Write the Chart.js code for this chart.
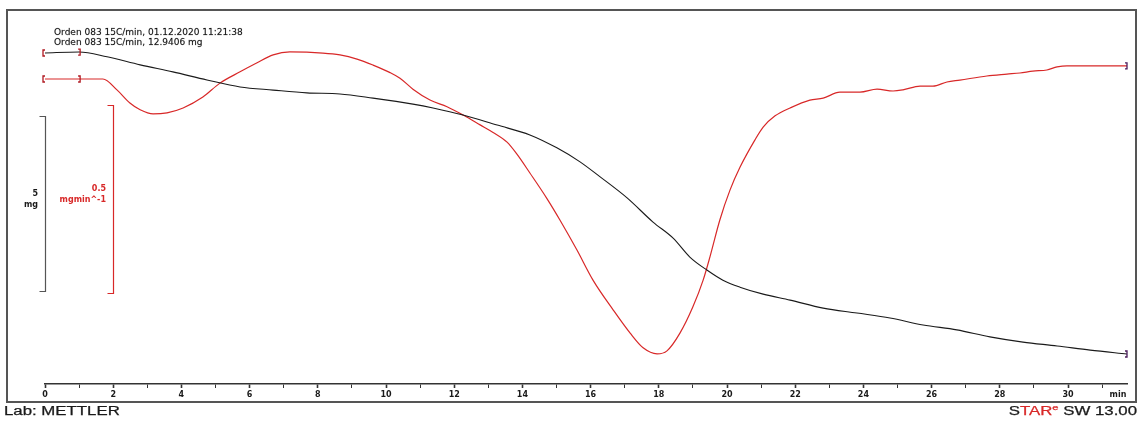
<!DOCTYPE html>
<html>
<head>
<meta charset="utf-8">
<script src="https://cdn.jsdelivr.net/npm/chart.js@4.4.1/dist/chart.umd.min.js"></script>
<style>
  html, body { margin: 0; padding: 0; background: #fff; }
  #wrap { width: 1140px; height: 423px; }
</style>
</head>
<body>
<div id="wrap"><canvas id="tgaChart" width="1140" height="423"></canvas></div>
<script>
// TGA curve (mass, mg)
const massTime = [0, 1.00, 1.82, 2.79, 3.75, 4.75, 5.72, 6.69, 7.68, 8.65, 9.62, 10.79, 11.38,
  12.26, 13.26, 14.22, 15.01, 15.69, 16.28, 17.07, 17.83, 18.42, 18.91, 19.41, 19.88, 20.38,
  21.06, 21.85, 22.82, 23.81, 24.78, 25.75, 26.74, 27.71, 28.68, 29.68, 30.65, 31.73];
const massValues = [12.94, 12.97, 12.83, 12.60, 12.40, 12.17, 11.97, 11.88, 11.80, 11.77, 11.65,
  11.48, 11.37, 11.17, 10.88, 10.60, 10.23, 9.83, 9.40, 8.80, 8.11, 7.65, 7.11, 6.74, 6.45, 6.25,
  6.05, 5.88, 5.65, 5.51, 5.37, 5.17, 5.03, 4.83, 4.68, 4.57, 4.45, 4.34];

// DTG curve (mg/min, relative to start level)
const rateTime = [0, 1.70, 2.11, 2.49, 2.79, 3.17, 3.58, 4.05, 4.63, 5.13, 5.72, 6.22, 6.69, 7.18,
  8.15, 8.65, 9.15, 9.62, 10.12, 10.41, 10.79, 11.29, 11.79, 12.26, 12.76, 13.14, 13.55, 13.84,
  14.22, 14.72, 15.10, 15.60, 16.07, 16.66, 17.16, 17.54, 17.95, 18.24, 18.62, 19.00, 19.30,
  19.50, 19.79, 20.09, 20.38, 20.82, 21.06, 21.41, 21.85, 22.43, 22.82, 23.31, 23.90, 24.40,
  24.87, 25.16, 25.66, 26.04, 26.45, 26.83, 27.62, 28.21, 28.59, 28.97, 29.38, 29.68, 29.97, 31.73];
const rateValues = [0, 0, -0.029, -0.064, -0.082, -0.093, -0.090, -0.077, -0.048, -0.011, 0.019,
  0.043, 0.064, 0.072, 0.069, 0.064, 0.053, 0.037, 0.017, 0.002, -0.027, -0.056, -0.074, -0.096,
  -0.122, -0.142, -0.168, -0.200, -0.250, -0.318, -0.375, -0.455, -0.535, -0.614, -0.676, -0.715,
  -0.731, -0.723, -0.676, -0.606, -0.535, -0.473, -0.375, -0.295, -0.235, -0.162, -0.128, -0.098,
  -0.077, -0.056, -0.051, -0.035, -0.035, -0.027, -0.032, -0.029, -0.019, -0.019, -0.008, -0.003,
  0.008, 0.013, 0.016, 0.021, 0.024, 0.032, 0.035, 0.035];

const titleLines = ['Orden 083 15C/min, 01.12.2020 11:21:38', 'Orden 083 15C/min, 12.9406 mg'];
const startMarks = [0, 1.03];

const RED = 'rgb(216,40,40)';
const DARK = '#1a1a1a';

function toPoints(xs, ys) {
  return xs.map((x, i) => ({ x: x, y: ys[i] }));
}

function valueAt(xs, ys, t) {
  for (let i = 1; i < xs.length; i++) {
    if (t <= xs[i]) {
      const f = (t - xs[i - 1]) / (xs[i] - xs[i - 1]);
      return ys[i - 1] + f * (ys[i] - ys[i - 1]);
    }
  }
  return ys[ys.length - 1];
}

function bracket(ctx, x, y, dir, color) {
  ctx.strokeStyle = color;
  ctx.lineWidth = 1.3;
  ctx.beginPath();
  ctx.moveTo(x + 2 * dir, y - 3);
  ctx.lineTo(x, y - 3);
  ctx.lineTo(x, y + 3);
  ctx.lineTo(x + 2 * dir, y + 3);
  ctx.stroke();
}

function scaleBar(ctx, scale, x, from, size, color, textColor, labels, labelX) {
  const y0 = Math.round(scale.getPixelForValue(from)) + 0.5;
  const y1 = Math.round(scale.getPixelForValue(from - size)) + 0.5;
  ctx.strokeStyle = color;
  ctx.lineWidth = 1.2;
  ctx.beginPath();
  ctx.moveTo(x - 6, y0);
  ctx.lineTo(x, y0);
  ctx.lineTo(x, y1);
  ctx.lineTo(x - 6, y1);
  ctx.stroke();
  const mid = (y0 + y1) / 2;
  ctx.fillStyle = textColor;
  ctx.font = 'bold 8px "DejaVu Sans"';
  ctx.textAlign = 'right';
  ctx.textBaseline = 'middle';
  ctx.fillText(labels[0], labelX, mid - 10.5);
  ctx.fillText(labels[1], labelX, mid + 0.5);
}

const decorPlugin = {
  id: 'starDecor',
  afterDraw(chart) {
    const ctx = chart.ctx;
    const xs = chart.scales.x;
    const ym = chart.scales.y;
    const yr = chart.scales.y2;
    ctx.save();

    // frame
    ctx.strokeStyle = '#555';
    ctx.lineWidth = 2;
    ctx.strokeRect(7, 10, 1129, 392);

    // title lines (slightly heavy like the original)
    ctx.fillStyle = '#111';
    ctx.strokeStyle = 'rgba(17,17,17,0.35)';
    ctx.lineWidth = 0.4;
    ctx.font = '9px "DejaVu Sans"';
    ctx.textAlign = 'left';
    ctx.textBaseline = 'middle';
    titleLines.forEach((s, i) => {
      ctx.fillText(s, 54, 33 + i * 10);
      ctx.strokeText(s, 54, 33 + i * 10);
    });

    // curve start / end brackets
    startMarks.forEach((t, i) => {
      const px = xs.getPixelForValue(t) + (i === 0 ? -2 : 0);
      const dir = i === 0 ? 1 : -1;
      bracket(ctx, px, ym.getPixelForValue(valueAt(massTime, massValues, t)), dir, '#b01820');
      bracket(ctx, px, yr.getPixelForValue(valueAt(rateTime, rateValues, t)), dir, '#b01820');
    });
    bracket(ctx, xs.getPixelForValue(massTime[massTime.length - 1]),
      ym.getPixelForValue(massValues[massValues.length - 1]), -1, '#4b1c5c');
    bracket(ctx, xs.getPixelForValue(rateTime[rateTime.length - 1]),
      yr.getPixelForValue(rateValues[rateValues.length - 1]), -1, '#4b1c5c');

    // scale bars
    scaleBar(ctx, ym, 45.5, 11.14, 5, '#555', DARK, ['5', 'mg'], 38);
    scaleBar(ctx, yr, 113.5, -0.069, 0.5, RED, RED, ['0.5', 'mgmin^-1'], 106);

    // unit at end of time axis
    ctx.fillStyle = DARK;
    ctx.font = 'bold 8px "DejaVu Sans"';
    ctx.textAlign = 'center';
    ctx.fillText('min', xs.right - 9, 395);

    // footer
    const sx = 1.4;
    ctx.textAlign = 'left';
    ctx.textBaseline = 'alphabetic';
    ctx.lineWidth = 0.25;
    ctx.save();
    ctx.translate(4, 415);
    ctx.scale(sx, 1);
    ctx.font = '12px "Liberation Sans"';
    ctx.fillStyle = DARK;
    ctx.strokeStyle = DARK;
    ctx.fillText('Lab: METTLER', 0, 0);
    ctx.strokeText('Lab: METTLER', 0, 0);
    ctx.restore();

    const parts = [['S', DARK, 12, 0], ['TAR', RED, 12, 0], ['e', RED, 8, -5], [' SW 13.00', DARK, 12, 0]];
    let w = 0;
    parts.forEach(p => { ctx.font = p[2] + 'px "Liberation Sans"'; w += ctx.measureText(p[0]).width; });
    ctx.save();
    ctx.translate(1137 - w * sx, 415);
    ctx.scale(sx, 1);
    let cx = 0;
    parts.forEach(p => {
      ctx.font = p[2] + 'px "Liberation Sans"';
      ctx.fillStyle = p[1];
      ctx.strokeStyle = p[1];
      ctx.fillText(p[0], cx, p[3]);
      ctx.strokeText(p[0], cx, p[3]);
      cx += ctx.measureText(p[0]).width;
    });
    ctx.restore();

    ctx.restore();
  }
};

new Chart(document.getElementById('tgaChart'), {
  type: 'line',
  data: {
    datasets: [
      {
        label: 'Mass',
        data: toPoints(massTime, massValues),
        yAxisID: 'y',
        borderColor: DARK,
        borderWidth: 1.1,
        pointRadius: 0,
        cubicInterpolationMode: 'monotone'
      },
      {
        label: 'DTG',
        data: toPoints(rateTime, rateValues),
        yAxisID: 'y2',
        borderColor: RED,
        borderWidth: 1.2,
        pointRadius: 0,
        cubicInterpolationMode: 'monotone'
      }
    ]
  },
  options: {
    responsive: false,
    animation: false,
    devicePixelRatio: 1,
    layout: { padding: { left: 45, right: 13, top: 40, bottom: 23 } },
    plugins: { legend: { display: false }, tooltip: { enabled: false } },
    scales: {
      x: {
        type: 'linear',
        min: 0,
        max: 31.73,
        border: { display: true, color: '#333', width: 1.5 },
        grid: {
          drawOnChartArea: false,
          drawTicks: true,
          tickLength: 4,
          tickColor: '#333',
          tickWidth: c => (c.tick && c.tick.value % 2 === 0 ? 1.6 : 1)
        },
        ticks: {
          stepSize: 1,
          includeBounds: false,
          autoSkip: false,
          maxRotation: 0,
          padding: 2,
          color: DARK,
          font: { family: 'DejaVu Sans', size: 8, weight: 'bold' },
          callback: v => (v % 2 === 0 ? v : '')
        },
        afterFit: s => { s.height = 16; }
      },
      y: { display: false, min: 3.483, max: 13.311 },
      y2: { display: false, min: -0.8112, max: 0.1037 }
    }
  },
  plugins: [decorPlugin]
});
</script>
</body>
</html>
